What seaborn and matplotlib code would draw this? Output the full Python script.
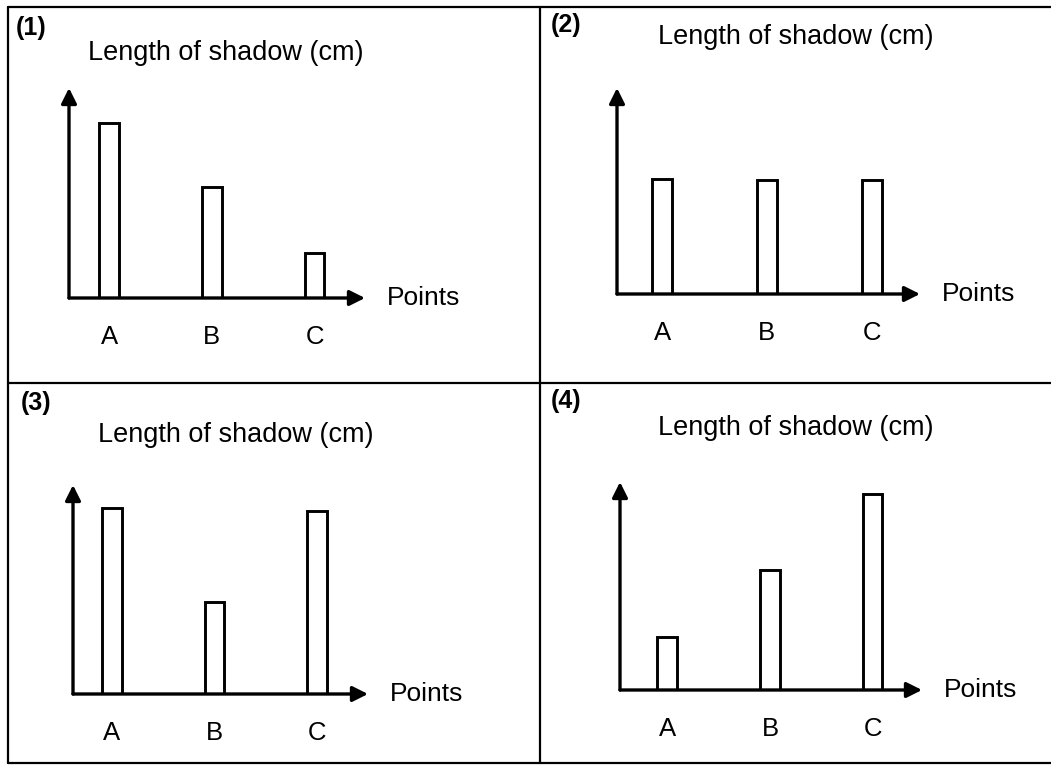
import matplotlib
matplotlib.use("Agg")
import matplotlib.pyplot as plt
import seaborn as sns
import pandas as pd
from matplotlib.lines import Line2D

sns.set_theme(style="white")
plt.rcParams["font.family"] = ["Liberation Sans", "DejaVu Sans"]

# ---- data -------------------------------------------------------------
points = ["A", "B", "C"]
panel_names = ["(1)", "(2)", "(3)", "(4)"]
shadow_1 = [8.33, 5.29, 2.14]
shadow_2 = [5.60, 5.55, 5.55]
shadow_3 = [8.90, 4.40, 8.76]
shadow_4 = [2.55, 5.77, 9.42]
y_title = "Length of shadow (cm)"
x_title = "Points"

W, H = 1051, 767
fig = plt.figure(figsize=(W / 100, H / 100), dpi=100)
fig.patch.set_facecolor("white")


def frac_rect(left, top, right, bottom):
    return [left / W, 1 - bottom / H, (right - left) / W, (bottom - top) / H]


# layout of each panel: axes box in pixels, x-range, title / label anchors
layout = [
    dict(box=(69, 88, 365, 298), xlim=(-0.39, 2.49), tag=(16, 28), title=(88, 53)),
    dict(box=(617, 88, 920, 294), xlim=(-0.43, 2.46), tag=(551, 25), title=(658, 37)),
    dict(box=(73, 485, 368, 694), xlim=(-0.38, 2.50), tag=(21, 403), title=(98, 435)),
    dict(box=(620, 482, 922, 690), xlim=(-0.46, 2.48), tag=(551, 401), title=(658, 428)),
]
series = [shadow_1, shadow_2, shadow_3, shadow_4]

for name, vals, lay in zip(panel_names, series, layout):
    ax = fig.add_axes(frac_rect(*lay["box"]))
    df = pd.DataFrame({"point": points, "length": vals})
    sns.barplot(data=df, x="point", y="length", ax=ax, color="white",
                edgecolor="black", linewidth=2.1, width=0.19, saturation=1)
    ax.set_xlim(*lay["xlim"])
    ax.set_ylim(0, 10)
    ax.patch.set_alpha(0)
    for sp in ax.spines.values():
        sp.set_visible(False)
    ax.set_yticks([])
    ax.set_xlabel("")
    ax.set_ylabel("")
    ax.set_xticks(range(len(points)), labels=points)
    ax.tick_params(axis="x", length=0, pad=28, labelsize=18.5, colors="black")
    for lab in ax.get_xticklabels():
        lab.set_va("center")

    arrow = dict(arrowstyle="-|>", color="black", lw=2.4, mutation_scale=23,
                 shrinkA=0, shrinkB=0)
    ax.annotate("", xy=(1, 0), xytext=(0, 0), xycoords="axes fraction",
                arrowprops=arrow, annotation_clip=False)
    ax.annotate("", xy=(0, 1), xytext=(0, 0), xycoords="axes fraction",
                arrowprops=arrow, annotation_clip=False)
    ax.annotate(x_title, xy=(1, 0), xycoords="axes fraction",
                xytext=(22, 0), textcoords="offset pixels",
                ha="left", va="center", fontsize=19, color="black",
                annotation_clip=False)

    tx, ty = lay["tag"]
    fig.text(tx / W, 1 - ty / H, name, ha="left", va="center",
             fontsize=18, fontweight="bold", color="black")
    gx, gy = lay["title"]
    fig.text(gx / W, 1 - gy / H, y_title, ha="left", va="center",
             fontsize=19.5, color="black")

# frame and dividers between panels
frame_lw = 1.6
for (x0, y0, x1, y1) in [(8, 7, W, 7), (8, 7, 8, 763), (8, 763, W, 763),
                         (540, 7, 540, 763), (8, 383, W, 383)]:
    fig.add_artist(Line2D([x0 / W, x1 / W], [1 - y0 / H, 1 - y1 / H],
                          color="black", lw=frame_lw))

fig.savefig("out.png", dpi=100, facecolor="white")
